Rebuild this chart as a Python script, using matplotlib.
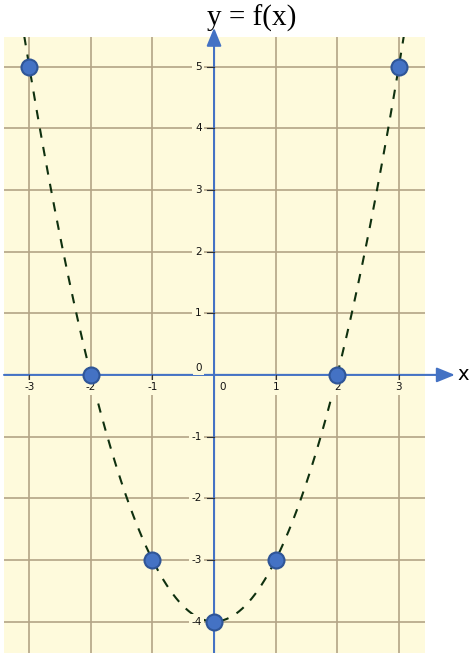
import matplotlib
matplotlib.use("Agg")
import matplotlib.pyplot as plt
import numpy as np

# points marked on the curve
x_pts = [-3, -2, -1, 0, 1, 2, 3]
y_pts = [5, 0, -3, -4, -3, 0, 5]

# f(x) = x^2 - 4, coefficients highest power first
f_coeffs = [1, 0, -4]

x_ticks = [-3, -2, -1, 1, 2, 3]
y_ticks = [-4, -3, -2, -1, 1, 2, 3, 4, 5]

bg = "#fefadc"
grid_col = "#b3a486"
axis_col = "#4472c4"

fig = plt.figure(figsize=(4.73, 6.53), dpi=100)
ax = fig.add_axes([4 / 473, 0, 421 / 473, 616 / 653])
ax.set_facecolor(bg)
ax.set_xlim(-3.41, 3.425)
ax.set_ylim(-4.51, 5.48)

for s in ax.spines.values():
    s.set_visible(False)
ax.set_xticks([])
ax.set_yticks([])

# grid
for gx in x_pts:
    if gx != 0:
        ax.axvline(gx, color=grid_col, lw=1.2, zorder=1)
for gy in range(-4, 6):
    if gy != 0:
        ax.axhline(gy, color=grid_col, lw=1.2, zorder=1)

# axes with arrows
ax.annotate("", xy=(3.91, 0), xytext=(-3.41, 0), annotation_clip=False,
            arrowprops=dict(arrowstyle="-|>,head_length=1.1,head_width=0.45",
                            color=axis_col, lw=1.5, shrinkA=0, shrinkB=0), zorder=4)
ax.annotate("", xy=(0, 5.63), xytext=(0, -4.51), annotation_clip=False,
            arrowprops=dict(arrowstyle="-|>,head_length=1.1,head_width=0.45",
                            color=axis_col, lw=1.5, shrinkA=0, shrinkB=0), zorder=4)

lab = dict(fontsize=7.5, color="#111111", zorder=5,
           bbox=dict(boxstyle="square,pad=0.25", fc=bg, ec="none"))

# tick marks and labels
for t in y_ticks:
    ax.plot([-0.11, 0], [t, t], color="#333333", lw=0.8, zorder=5)
    ax.text(-0.2, t, str(t), ha="right", va="center", **lab)
for t in x_ticks:
    ax.plot([t, t], [0, -0.09], color="#333333", lw=0.8, zorder=5)
    ax.text(t, -0.2, str(t), ha="center", va="center", **lab)
ax.text(-0.2, 0.12, "0", ha="right", va="center", **lab)
ax.text(0.14, -0.2, "0", ha="center", va="center", **lab)

# dashed curve
xs = np.linspace(-3.41, 3.425, 400)
ax.plot(xs, np.polyval(f_coeffs, xs), color="#0f300f", lw=1.5,
        dashes=(4.5, 4.5), zorder=3)

# points
ax.plot(x_pts, y_pts, "o", ms=11.5, mfc="#4472c4", mec="#2f5597",
        mew=1.5, zorder=6, clip_on=False)

fig.text(252 / 473, 1 - 18 / 653, "y = f(x)", ha="center", va="center",
         fontsize=21, family="Liberation Serif")
fig.text(463 / 473, 1 - 375 / 653, "x", ha="center", va="center",
         fontsize=14, family="DejaVu Sans")

fig.savefig("out.png", dpi=100, facecolor="white")
